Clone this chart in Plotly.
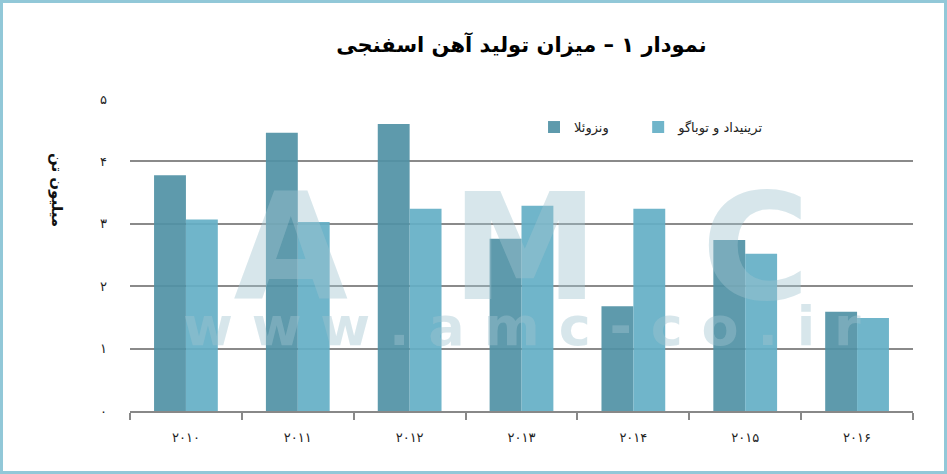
import plotly.graph_objects as go

years = ["۲۰۱۰", "۲۰۱۱", "۲۰۱۲", "۲۰۱۳", "۲۰۱۴", "۲۰۱۵", "۲۰۱۶"]
venezuela = [3.78, 4.46, 4.60, 2.76, 1.68, 2.74, 1.59]
trinidad = [3.07, 3.03, 3.24, 3.29, 3.24, 2.52, 1.49]
y_ticks = [0, 1, 2, 3, 4, 5]
y_tick_labels = ["۰", "۱", "۲", "۳", "۴", "۵"]

FONT = "DejaVu Sans"
W, H = 947, 474
ML, MR, MT, MB = 130, 34, 99, 63
pw, ph = W - ML - MR, H - MT - MB

fig = go.Figure()
fig.add_trace(go.Bar(name="ونزوئلا", x=years, y=venezuela, legend="legend",
                     showlegend=True,
                     marker=dict(color="rgba(80,145,165,0.92)", line=dict(width=0))))
fig.add_trace(go.Bar(name="ترینیداد و توباگو", x=years, y=trinidad, legend="legend2",
                     showlegend=True,
                     marker=dict(color="rgba(100,175,198,0.92)", line=dict(width=0))))

# watermark (single text block)
wm = "rgba(160,195,208,0.42)"
wm_text = ("<b><span style='font-size:148px'>A\u00a0\u00a0M\u00a0\u00a0C</span></b><br>"
           "<b><span style='font-size:54px'>w w w . a m c - c o . i r</span></b>")
fig.add_annotation(x=0.5, y=2.42, xref="paper", yref="y", text=wm_text,
                   showarrow=False, yanchor="middle", align="center",
                   font=dict(family="DejaVu Sans", size=35, color=wm))

fig.add_annotation(x=-0.107, y=0.833, xref="paper", yref="paper", text="<b>میلیون تن</b>",
                   textangle=90, showarrow=False,
                   font=dict(family=FONT, size=15, color="#111"))

# frame
fig.add_shape(type="rect", xref="paper", yref="paper",
              x0=-(ML - 1.5) / pw, x1=1 + (MR - 1.5) / pw,
              y0=-(MB - 1.5) / ph, y1=1 + (MT - 1.5) / ph,
              line=dict(color="#92c8d8", width=3), layer="below")

leg_common = dict(orientation="h", y=0.91, xanchor="left", yanchor="middle",
                  bgcolor="rgba(0,0,0,0)", font=dict(size=13, color="#222"),
                  itemwidth=30, visible=True)

fig.update_layout(
    width=W, height=H, showlegend=True,
    margin=dict(l=ML, r=MR, t=MT, b=MB),
    paper_bgcolor="white", plot_bgcolor="white",
    barmode="group", bargap=0.43, bargroupgap=0,
    title=dict(text="<b>نمودار ۱ – میزان تولید آهن اسفنجی</b>", x=0.5, xref="paper",
               xanchor="center", y=1 - 45 / H, yanchor="middle",
               font=dict(family=FONT, size=21, color="#000")),
    font=dict(family=FONT, size=13, color="#222"),
    legend=dict(x=0.516, **leg_common),
    legend2=dict(x=0.649, **leg_common),
    xaxis=dict(showgrid=False, showline=True, linecolor="#888", linewidth=1.5,
               ticks="outside", tickson="boundaries", ticklen=7, tickcolor="#888",
               tickwidth=1.5, ticklabelstandoff=14, tickfont=dict(size=13, color="#222")),
    yaxis=dict(range=[0, 5], tickvals=y_ticks, ticktext=y_tick_labels,
               showgrid=True, gridcolor="#8a8a8a", gridwidth=1.5, zeroline=False,
               showline=False, ticks="", ticklabelstandoff=22,
               tickfont=dict(size=13, color="#222")),
)

fig.write_html("out.html", config={"displayModeBar": False},
               post_script="document.body.style.margin='0';")
